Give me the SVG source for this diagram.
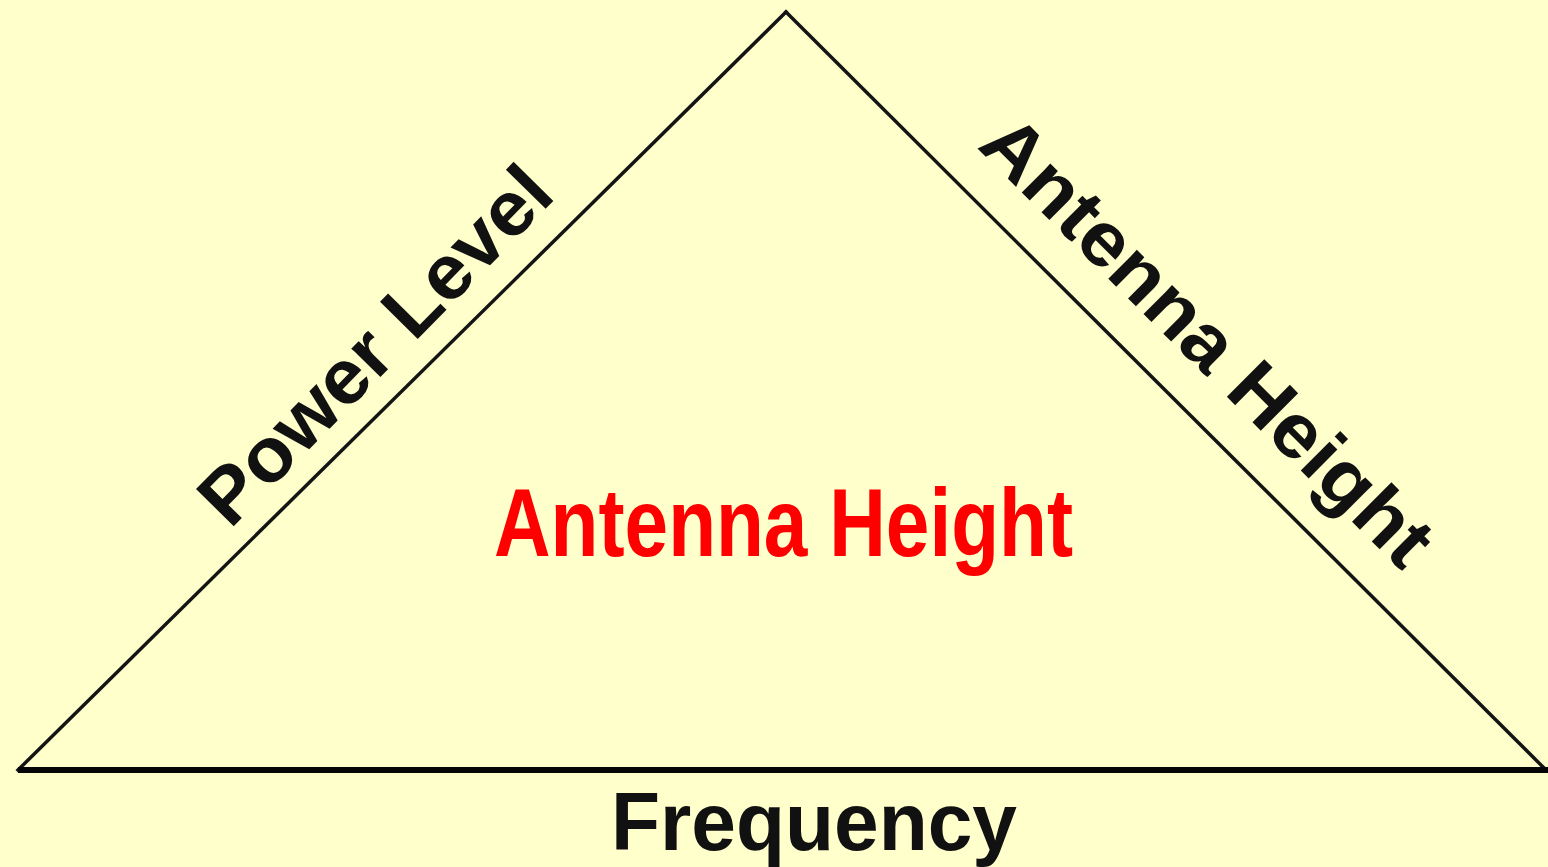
<svg xmlns="http://www.w3.org/2000/svg" width="1548" height="867" viewBox="0 0 1548 867">
  <style>
    .edge { stroke: #141414; stroke-width: 3.5; fill: none; stroke-linecap: square; }
    .base { stroke: #050505; stroke-width: 6; fill: none; }
    .lbl { font-family: "Liberation Sans", Arial, sans-serif; font-weight: bold; fill: #111111; }
    .title { font-family: "Liberation Sans", Arial, sans-serif; font-weight: bold; fill: #FF0000; }
  </style>
  <rect x="0" y="0" width="1548" height="867" fill="#FFFFCC"/>
  <g id="connectors">
    <line class="edge" x1="18" y1="770" x2="786" y2="12"/>
    <line class="edge" x1="786" y1="12" x2="1546" y2="770"/>
    <line class="base" x1="18" y1="770" x2="1548" y2="770"/>
  </g>
  <g id="power-level">
    <text class="lbl" font-size="77" transform="translate(230,530) rotate(-45.5)" x="0" y="0" textLength="467" lengthAdjust="spacingAndGlyphs">Power Level</text>
  </g>
  <g id="antenna-height-side">
    <text class="lbl" font-size="77" transform="translate(976,147) rotate(44.9)" x="0" y="0" textLength="602" lengthAdjust="spacingAndGlyphs">Antenna Height</text>
  </g>
  <g id="frequency">
    <text class="lbl" font-size="82" x="611" y="850" textLength="406" lengthAdjust="spacingAndGlyphs">Frequency</text>
  </g>
  <g id="title">
    <text class="title" font-size="96" x="494" y="556" textLength="579" lengthAdjust="spacingAndGlyphs">Antenna Height</text>
  </g>
</svg>
